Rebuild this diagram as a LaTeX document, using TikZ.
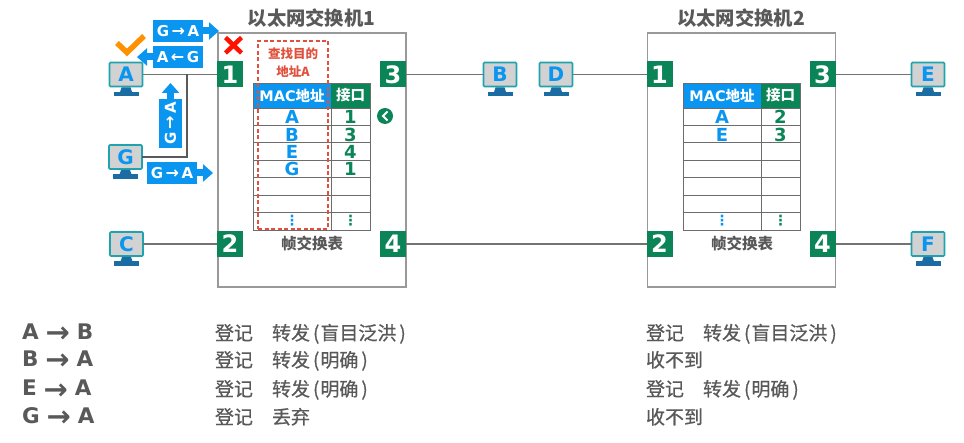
\documentclass[tikz,border=0pt]{standalone}
\usepackage{fontspec}
\setmainfont{DejaVu Sans}
\newfontfamily\cjk{Noto Sans CJK SC}
\newfontfamily\cjklog[FakeBold=0.7]{Noto Sans CJK SC}
\usetikzlibrary{arrows.meta}
\definecolor{tagblue}{HTML}{0A96F0}
\definecolor{portgreen}{HTML}{0B8457}
\definecolor{txtgray}{HTML}{595959}
\definecolor{dashred}{HTML}{E0503C}
\definecolor{screenteal}{HTML}{1FA3AE}
\definecolor{standblue}{HTML}{1B6CA3}
\newcommand{\tagarw}[1]{\hspace{2.5pt}{\fontsize{16}{16}\selectfont #1}\hspace{2.5pt}}
\newcommand{\flowarw}{\hspace{7pt}\raisebox{-3pt}{\fontsize{29}{29}\selectfont →}\hspace{7pt}}
\newcommand{\sendtxt}[1]{转发\hspace{3pt}(\hspace{1pt}#1\hspace{3pt})}

\begin{document}
\begin{tikzpicture}[x=1pt, y=-1pt, every node/.style={inner sep=0pt, outer sep=0pt},
	swbox/.style={draw=gray!80, line width=1.1pt, minimum width=188pt, minimum height=254pt},
	port/.style={fill=portgreen, text=white, font=\bfseries\fontsize{24}{24}\selectfont, minimum size=26pt},
	hostbox/.style={draw=screenteal, line width=1.6pt, fill=gray!35, rounded corners=1pt, text=tagblue, font=\bfseries\fontsize{20}{20}\selectfont, minimum width=33pt, minimum height=24pt},
	link/.style={draw=gray!90!black, line width=1.3pt},
	tag/.style={fill=tagblue, text=white, font=\bfseries\fontsize{15}{15}\selectfont, minimum width=50pt, minimum height=22pt},
	tagarrow/.style={draw=tagblue, line width=7pt, -{Triangle[length=10pt, width=17pt]}},
	title/.style={text=txtgray, font=\cjk\bfseries\fontsize{19.3}{19.3}\selectfont},
	log/.style={text=txtgray, anchor=base west, font=\cjklog\fontsize{19}{19}\selectfont},
	flow/.style={text=txtgray, anchor=base west, font=\bfseries\fontsize{21.5}{21.5}\selectfont},
	rowmac/.style={text=tagblue, font=\bfseries\fontsize{18}{18}\selectfont},
	rowport/.style={text=portgreen, font=\bfseries\fontsize{18}{18}\selectfont},
	dotmark/.style={font=\bfseries\fontsize{14}{14}\selectfont},
	machead/.style={fill=tagblue, text=white, font=\bfseries\fontsize{14.5}{15}\selectfont, minimum width=78pt, minimum height=25pt},
	porthead/.style={fill=portgreen, text=white, font=\cjk\bfseries\fontsize{14.5}{15}\selectfont, minimum width=39pt, minimum height=25pt},
	tabcap/.style={text=txtgray, font=\cjk\bfseries\fontsize{15.5}{16}\selectfont}]
	\useasboundingbox (0,0) rectangle (964,443);

	% switches and their ports
	\foreach \s/\x in {1/312,2/741.5} {
		\node[swbox] (sw\s) at (\x,160) {};
		\node[title] (title\s) at (\x-0.5,18) {以太网交换机\s};
		\node[port] (port\s1) at (\x-82,74.5) {1};
		\node[port] (port\s2) at (\x-82,244) {2};
		\node[port] (port\s3) at (\x+81,74.5) {3};
		\node[port] (port\s4) at (\x+81,244) {4};
	}

	% hosts: screen node plus stand
	\foreach \n/\x/\y in {A/126/74.5,G/125.5/157,C/126.5/244,B/500/74.5,D/556/74.5,E/928/74.5,F/928/244} {
		\node[hostbox] (host\n) at (\x,\y) {\n};
		\fill[standblue] (\x-4.5,\y+13) -- (\x+4.5,\y+13) -- (\x+6,\y+17.5) -- (\x-6,\y+17.5) -- cycle;
		\fill[standblue] (\x-12.5,\y+17.5) rectangle (\x+12.5,\y+22);
	}

	% links
	\coordinate (joinA) at (187,74.5);
	\draw[link] (hostA) -- (port11);
	\draw[link, draw=txtgray] (hostG) -| (joinA);
	\draw[link] (hostC) -- (port12);
	\draw[link] (port13) -- (hostB);
	\draw[link] (hostD) -- (port21);
	\draw[link] (port14) -- (port22);
	\draw[link] (port23) -- (hostE);
	\draw[link] (port24) -- (hostF);

	% forwarding tables
	\foreach \s/\dx in {1/0,2/430} {
		\begin{scope}[xshift=\dx pt]
			\node[machead] (mac\s) at (292,95.5) {MAC{\cjk 地址}};
			\node[porthead] (ifc\s) at (350.5,95.5) {接口};
			\foreach \i in {0,...,7} {
				\pgfmathsetmacro{\yy}{108+17.42*\i}
				\draw[gray!85!black, line width=0.8pt] (253,\yy) -- (370,\yy);
			}
			\draw[gray!85!black, line width=0.8pt] (253,83) rectangle (370,230);
			\draw[gray!85!black, line width=0.8pt] (331,108) -- (331,230);
			\node[dotmark, text=tagblue] (dotm\s) at (292,221) {⋮};
			\node[dotmark, text=portgreen] (dotp\s) at (350.5,221) {⋮};
			\node[tabcap] (cap\s) at (312,244) {帧交换表};
		\end{scope}
	}
	\foreach \m/\p/\y in {A/1/117,B/3/134.5,E/4/152,G/1/169} {
		\node[rowmac] (macA\m) at (292,\y) {\m};
		\node[rowport] (ifcA\m) at (350.5,\y) {\p};
	}
	\foreach \m/\p/\y in {A/2/117,E/3/134.5} {
		\node[rowmac] (macB\m) at (722,\y) {\m};
		\node[rowport] (ifcB\m) at (780.5,\y) {\p};
	}

	% lookup marker on the address column
	\node[draw=dashred, dash pattern=on 4pt off 2.5pt, line width=1.2pt, minimum width=70pt, minimum height=188pt] (lookup) at (293,135) {};
	\node[text=dashred, align=center, font=\cjk\bfseries\fontsize{12.5}{18}\selectfont] (lookuptxt) at (293,63) {查找目的\\地址A};

	% frames on their way
	\node[tag] (tagin) at (178,31) {G\tagarw{→}A};
	\coordinate (taginend) at (219,31);
	\draw[tagarrow] (tagin.east) -- (taginend);
	\node[tag] (tagback) at (178,57) {A\tagarw{←}G};
	\coordinate (tagbackend) at (137,57);
	\draw[tagarrow] (tagback.west) -- (tagbackend);
	\node[tag, rotate=90, minimum width=49pt, minimum height=23pt] (tagup) at (170.5,123.5) {G\tagarw{→}A};
	\coordinate (tagupend) at (170.5,83);
	\draw[tagarrow] (tagup.east) -- (tagupend);
	\node[tag] (tagsend) at (172,173) {G\tagarw{→}A};
	\coordinate (tagsendend) at (213,173);
	\draw[tagarrow] (tagsend.east) -- (tagsendend);

	% check mark, cross and table pointer
	\draw[orange!75!yellow!90!red, line width=5.5pt] (117,43) -- (127,52.5) -- (144,36);
	\draw[red!85!orange, line width=4.5pt] (225.5,37.5) -- (241.5,53) (241.5,37.5) -- (225.5,53);
	\node[circle, fill=portgreen, minimum size=16pt] (hit) at (385,116) {};
	\draw[white, line width=2pt] (387.5,111.5) -- (383,116) -- (387.5,120.5);

	% event log below the switches
	\foreach \a/\b/\y/\p in {A/B/340/\sendtxt{盲目泛洪},B/A/367/\sendtxt{明确},E/A/396/\sendtxt{明确},G/A/424/丢弃} {
		\node[flow] (flow\a) at (22,\y) {\a\flowarw\b};
		\node[log] (logA\a) at (215,\y) {登记};
		\node[log] (logB\a) at (272,\y) {\p};
	}
	\node[log] (logC1) at (646,340) {登记};
	\node[log] (logD1) at (703,340) {\sendtxt{盲目泛洪}};
	\node[log] (logC2) at (646,367) {收不到};
	\node[log] (logC3) at (646,396) {登记};
	\node[log] (logD3) at (703,396) {\sendtxt{明确}};
	\node[log] (logC4) at (646,424) {收不到};
\end{tikzpicture}
\end{document}
